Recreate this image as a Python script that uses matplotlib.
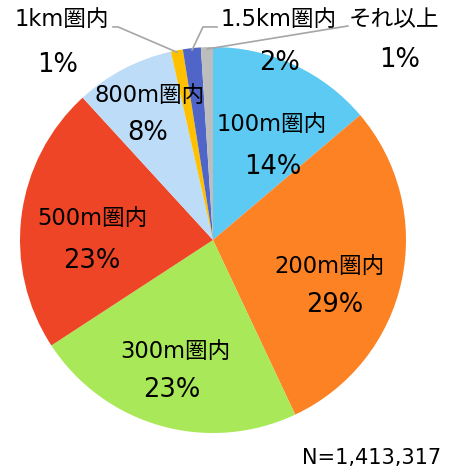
import numpy as np
import matplotlib.pyplot as plt

plt.rcParams['font.family'] = ['DejaVu Sans', 'Noto Sans CJK JP']

# 距離帯ごとの割合
labels = ['100m圏内', '200m圏内', '300m圏内', '500m圏内', '800m圏内', '1km圏内', '1.5km圏内', 'それ以上']
values = [13.8, 29.2, 22.8, 22.4, 8.3, 1.0, 1.5, 1.0]
pct_labels = ['14%', '29%', '23%', '23%', '8%', '1%', '2%', '1%']
colors = ['#5ccaf2', '#fd8224', '#a9e858', '#ef4527', '#bcdcf7', '#ffc000', '#4f66c8', '#bdbdbd']

fig = plt.figure(figsize=(4.57, 4.72), dpi=100)
ax = fig.add_axes([20/457, 39/472, 386/457, 386/472])
wedges, _ = ax.pie(values, colors=colors, startangle=90, counterclock=False,
                   radius=1.0, wedgeprops=dict(linewidth=0))
ax.set_xlim(-1, 1)
ax.set_ylim(-1, 1)
ax.set_aspect('equal')
ax.axis('off')

fs_lab = 16.3
fs_pct = 18.5

# ラベル位置 (名前, パーセント)
lab_pos = [(0.306, 0.596), (0.606, -0.135), (-0.197, -0.580), (-0.627, 0.109),
           (-0.326, 0.751), (-0.782, 1.140), (0.342, 1.140), (0.938, 1.140)]
pct_pos = [(0.311, 0.378), (0.632, -0.337), (-0.212, -0.777), (-0.627, -0.109),
           (-0.337, 0.554), (-0.803, 0.907), (0.347, 0.917), (0.969, 0.933)]
for i in range(len(labels)):
    ax.text(*lab_pos[i], labels[i], ha='center', va='center', fontsize=fs_lab)
    ax.text(*pct_pos[i], pct_labels[i], ha='center', va='center', fontsize=fs_pct)

# 引き出し線
leader_start = {5: [(-0.518, 1.104), (-0.492, 1.104)],
                6: [(0.021, 1.104), (-0.052, 1.104)],
                7: [(0.699, 1.109)]}
for i, pts in leader_start.items():
    w = wedges[i]
    ang = np.deg2rad((w.theta1 + w.theta2) / 2)
    edge = (0.99 * np.cos(ang), 0.99 * np.sin(ang))
    xs = [p[0] for p in pts] + [edge[0]]
    ys = [p[1] for p in pts] + [edge[1]]
    ax.plot(xs, ys, color='#a6a6a6', lw=1.2, clip_on=False)

fig.text(441/457, 1 - 458/472, 'N=1,413,317', ha='right', va='center', fontsize=15)

fig.savefig('out.png', dpi=100)
